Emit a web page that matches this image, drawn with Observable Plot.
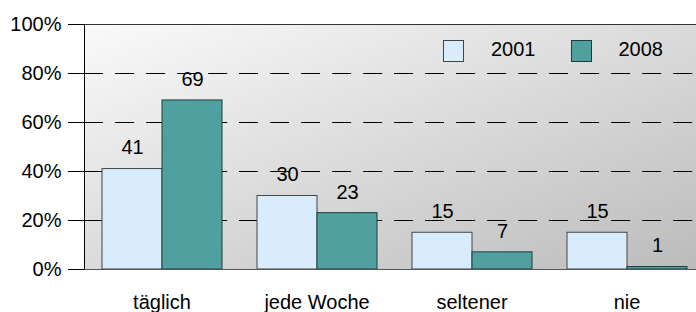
<!DOCTYPE html>
<html><head><meta charset="utf-8">
<script src="https://cdn.jsdelivr.net/npm/d3@7"></script>
<script src="https://cdn.jsdelivr.net/npm/@observablehq/plot@0.6"></script>
<style>
body{margin:0;background:#fff;font-family:"Liberation Sans",Arial,sans-serif;}
#wrap{position:relative;width:696px;height:312px;overflow:hidden;}
#legend{position:absolute;left:443px;top:40px;display:flex;align-items:center;font-size:20px;color:#000;line-height:21px;}
#legend .sw{display:inline-block;width:21px;height:22px;box-sizing:border-box;border:1px solid #444;}
#legend .lt{display:inline-block;margin-left:27px;margin-right:35px;position:relative;top:-2px;}
</style></head>
<body><div id="wrap"></div>
<script>
const categories = ["täglich", "jede Woche", "seltener", "nie"];
const years = ["2001", "2008"];
const values2001 = [41, 30, 15, 15];
const values2008 = [69, 23, 7, 1];
const yTicks = [0, 20, 40, 60, 80, 100];
const fillColors = ["#d8ecfc", "#50a0a0"];
const strokeColors = ["#444444", "#1e3e3e"];

const rows = [];
categories.forEach((c, i) => {
  rows.push({cat: c, year: years[0], value: values2001[i]});
  rows.push({cat: c, year: years[1], value: values2008[i]});
});

const chart = Plot.plot({
  width: 696, height: 312,
  marginLeft: 83, marginRight: 0, marginTop: 24, marginBottom: 43,
  style: {fontFamily: '"Liberation Sans", Arial, sans-serif', fontSize: "20px", color: "#000", background: "transparent"},
  fx: {domain: categories, range: [83, 704], padding: 0, label: null},
  x: {domain: years, paddingInner: 0, paddingOuter: 0.284, axis: null},
  y: {domain: [0, 100], axis: null, label: null},
  color: {domain: years, range: fillColors},
  marks: [
    Plot.frame({facet: "super", fill: "url(#bgGrad)"}),
    Plot.ruleY(yTicks.filter(d => d > 0 && d < 100), {stroke: "#000", strokeWidth: 1, strokeDasharray: "19,12.05"}),
    ...years.map((yr, k) => Plot.barY(rows.filter(r => r.year === yr), {fx: "cat", x: "year", y: "value", fill: "year", stroke: strokeColors[k], strokeWidth: 1})),
    Plot.text(rows, {fx: "cat", x: "year", y: "value", text: d => String(d.value), dy: -21, fontSize: 20, fill: "#000"}),
    Plot.axisY({ticks: yTicks, tickFormat: d => d + "%", tickSize: 16, tickPadding: 7, fontSize: 20, stroke: "#000", label: null}),
    Plot.axisFx({anchor: "bottom", tickSize: 0, tickPadding: 25, fontSize: 20, label: null}),
    Plot.frame({facet: "super", anchor: "left", stroke: "#000"}),
    Plot.frame({facet: "super", anchor: "top", stroke: "#333"}),
    Plot.ruleY([0], {stroke: "#555"})
  ]
});

const NS = "http://www.w3.org/2000/svg";
const defs = document.createElementNS(NS, "defs");
const grad = document.createElementNS(NS, "linearGradient");
grad.setAttribute("id", "bgGrad");
grad.setAttribute("x1", "0"); grad.setAttribute("y1", "0");
grad.setAttribute("x2", "1"); grad.setAttribute("y2", "1");
[["0", "#fafafa"], ["1", "#bbbbbb"]].forEach(([o, c]) => {
  const s = document.createElementNS(NS, "stop");
  s.setAttribute("offset", o); s.setAttribute("stop-color", c);
  grad.appendChild(s);
});
defs.appendChild(grad);
chart.insertBefore(defs, chart.firstChild);

const wrap = document.getElementById("wrap");
wrap.appendChild(chart);

const legend = document.createElement("div");
legend.id = "legend";
years.forEach((yr, k) => {
  const sw = document.createElement("span");
  sw.className = "sw";
  sw.style.background = fillColors[k];
  sw.style.borderColor = strokeColors[k];
  const lt = document.createElement("span");
  lt.className = "lt";
  lt.textContent = yr;
  legend.appendChild(sw);
  legend.appendChild(lt);
});
wrap.appendChild(legend);
</script>
</body></html>
